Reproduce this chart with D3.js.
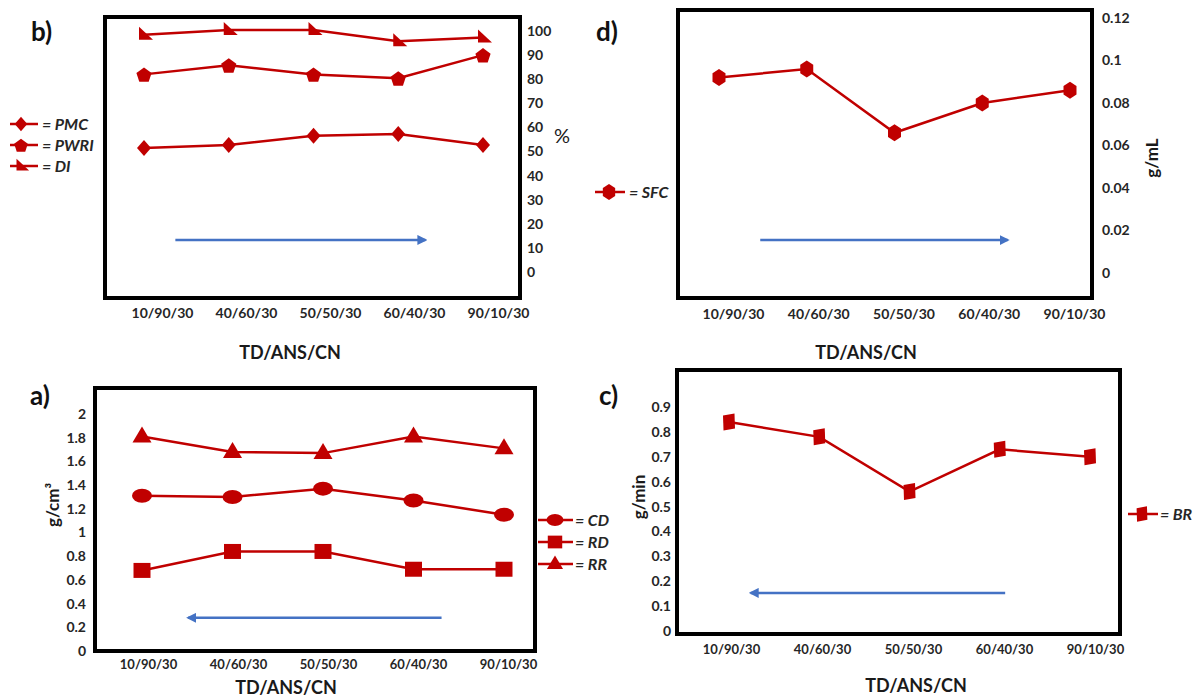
<!DOCTYPE html>
<html>
<head>
<meta charset="utf-8">
<script src="https://cdn.jsdelivr.net/npm/d3@7"></script>
<style>
  body { margin: 0; background: #fff; }
  svg { display: block; font-family: Lato, "Open Sans", sans-serif; }
  .tick text { font-weight: 700; fill: #262626; }
</style>
</head>
<body>
<svg id="chart" width="1203" height="699"></svg>
<script>
// categories (TD/ANS/CN ratios)
const categories = ["10/90/30", "40/60/30", "50/50/30", "60/40/30", "90/10/30"]

// b) percentages
const pmc  = [51.5, 52.7, 56.5, 57.3, 52.7]
const pwri = [82, 85.8, 82, 80.4, 90]
const di   = [98.4, 100.4, 100.4, 95.7, 97.3]
// d) g/mL
const sfc  = [0.092, 0.096, 0.066, 0.080, 0.086]
// a) g/cm3
const cd   = [1.31, 1.30, 1.37, 1.27, 1.15]
const rd   = [0.68, 0.84, 0.84, 0.69, 0.69]
const rr   = [1.81, 1.68, 1.67, 1.81, 1.71]
// c) g/min
const br   = [0.84, 0.78, 0.56, 0.73, 0.70]

// tick labels
const percentTicks = [0, 10, 20, 30, 40, 50, 60, 70, 80, 90, 100]
const sfcTicks = [0, 0.02, 0.04, 0.06, 0.08, 0.1, 0.12]
const densityTicks = [0, 0.2, 0.4, 0.6, 0.8, 1, 1.2, 1.4, 1.6, 1.8, 2]
const brTicks = [0, 0.1, 0.2, 0.3, 0.4, 0.5, 0.6, 0.7, 0.8, 0.9]

// trend arrows (category index from -> to, at y value)
const arrowB = [0.37, 3.32, 13.3]
const arrowD = [0.47, 3.29, 0.0155]
const arrowA = [3.31, 0.51, 0.28]
const arrowC = [3.06, 0.24, 0.153]

const RED = "#c00000"
const BLUE = "#4472c4"

// marker shapes, scale k
const shapes = {
    diamond: k => `M0,${-8*k}L${7*k},0L0,${8*k}L${-7*k},0Z`,
    pentagon: k => {
        let p = d3.range(5).map(i => {
            let a = -Math.PI/2 + i*2*Math.PI/5
            return [Math.cos(a)*8*k, Math.sin(a)*8*k + 1*k]
        })
        return "M" + p.join("L") + "Z"
    },
    flag: k => `M${-5*k},${-8*k}L${-5*k},${5*k}L${9*k},${5*k}Z`,
    hexagon: k => {
        let p = d3.range(6).map(i => {
            let a = -Math.PI/2 + i*Math.PI/3
            return [Math.cos(a)*7.5*k, Math.sin(a)*8.5*k]
        })
        return "M" + p.join("L") + "Z"
    },
    ellipse: k => `M${-10*k},0A${10*k},${7*k} 0 1,0 ${10*k},0A${10*k},${7*k} 0 1,0 ${-10*k},0Z`,
    square: k => `M${-8.5*k},${-7.5*k}H${8.5*k}V${7.5*k}H${-8.5*k}Z`,
    triangle: k => `M0,${-10*k}L${9.5*k},${6*k}L${-9.5*k},${6*k}Z`,
    skew: k => `M${-6*k},${-6.5*k}L${5.5*k},${-8.5*k}L${6*k},${6.5*k}L${-5.5*k},${8.5*k}Z`
}

const panels = [
    {
        tag: "b)", tagPos: [31, 41], frame: [105, 17, 520, 298],
        yDomain: [0, 100], yRange: [272, 31], ticks: percentTicks, side: "right", tickX: 527,
        px: [144, 483], lx: [162, 498], ly: 308, labelSize: 14,
        title: [290, 359], unit: "%", unitPos: [562, 143], unitRotate: false,
        series: [
            { name: "PMC", values: pmc, shape: "diamond" },
            { name: "PWRI", values: pwri, shape: "pentagon" },
            { name: "DI", values: di, shape: "flag" }
        ],
        legend: { x: 10, marker: 21, text: 42, ys: [124, 145, 166], w: 28, k: 0.9 },
        arrow: arrowB
    },
    {
        tag: "d)", tagPos: [596, 41], frame: [678, 10, 1092, 298],
        yDomain: [0, 0.12], yRange: [273, 18], ticks: sfcTicks, side: "right", tickX: 1102,
        px: [719, 1070], lx: [733, 1074], ly: 309, labelSize: 14,
        title: [866, 359], unit: "g/mL", unitPos: [1158, 158], unitRotate: true,
        series: [{ name: "SFC", values: sfc, shape: "hexagon" }],
        legend: { x: 595, marker: 609, text: 629, ys: [192], w: 30, k: 0.95 },
        arrow: arrowD
    },
    {
        tag: "a)", tagPos: [30, 405], frame: [95, 388, 535, 651],
        yDomain: [0, 2], yRange: [651, 414], ticks: densityTicks, side: "left", tickX: 86,
        px: [142, 504], lx: [148, 508], ly: 660, labelSize: 13,
        title: [286, 694], unit: "g/cm³", unitPos: [59, 505], unitRotate: true,
        series: [
            { name: "CD", values: cd, shape: "ellipse" },
            { name: "RD", values: rd, shape: "square" },
            { name: "RR", values: rr, shape: "triangle" }
        ],
        legend: { x: 538, marker: 555, text: 575, ys: [520, 542, 564], w: 35, k: 0.85 },
        arrow: arrowA
    },
    {
        tag: "c)", tagPos: [599, 405], frame: [677, 370, 1120, 634],
        yDomain: [0, 0.9], yRange: [631, 407], ticks: brTicks, side: "left", tickX: 671,
        px: [729, 1090], lx: [731, 1095], ly: 645, labelSize: 13,
        title: [916, 692], unit: "g/min", unitPos: [645, 497], unitRotate: true,
        series: [{ name: "BR", values: br, shape: "skew" }],
        legend: { x: 1128, marker: 1142, text: 1160, ys: [514], w: 30, k: 0.9 },
        arrow: arrowC
    }
]

const svg = d3.select("#chart")
svg.append("defs").append("marker")
    .attr("id", "head").attr("viewBox", "0 0 10 10")
    .attr("refX", 8).attr("refY", 5)
    .attr("markerWidth", 4).attr("markerHeight", 4)
    .attr("orient", "auto-start-reverse")
    .append("path").attr("d", "M0,0L10,5L0,10Z").attr("fill", BLUE)

panels.forEach(p => {
    let g = svg.append("g")
    let [x0, y0, x1, y1] = p.frame

    let x = d3.scalePoint().domain(categories).range(p.px)
    let xi = d3.scaleLinear().domain([0, categories.length - 1]).range(p.px)
    let xl = d3.scalePoint().domain(categories).range(p.lx)
    let y = d3.scaleLinear().domain(p.yDomain).range(p.yRange)

    // frame
    g.append("rect")
        .attr("x", x0).attr("y", y0)
        .attr("width", x1 - x0).attr("height", y1 - y0)
        .attr("fill", "none").attr("stroke", "#000").attr("stroke-width", 4)

    // y tick labels
    let yAxis = (p.side == "right" ? d3.axisRight(y) : d3.axisLeft(y))
        .tickValues(p.ticks).tickSize(0).tickPadding(0).tickFormat(d => d3.format("~g")(d))
    g.append("g").attr("transform", `translate(${p.tickX},0)`).call(yAxis)
        .call(a => a.select(".domain").remove())
        .selectAll("text").attr("font-size", 14).attr("font-family", "Lato")

    // x tick labels
    g.append("g").attr("transform", `translate(0,${p.ly})`)
        .call(d3.axisBottom(xl).tickSize(0).tickPadding(0))
        .call(a => a.select(".domain").remove())
        .selectAll("text").attr("font-size", p.labelSize).attr("font-family", "Lato")

    // axis title
    g.append("text").attr("x", p.title[0]).attr("y", p.title[1])
        .attr("text-anchor", "middle").attr("font-size", 18).attr("font-weight", 700)
        .attr("fill", "#1a1a1a").text("TD/ANS/CN")

    // unit label
    let u = g.append("text").attr("text-anchor", "middle").attr("fill", "#1a1a1a")
    if (p.unitRotate) {
        u.attr("transform", `translate(${p.unitPos[0]},${p.unitPos[1]}) rotate(-90)`)
            .attr("font-size", 17).attr("font-weight", 700)
    } else {
        u.attr("x", p.unitPos[0]).attr("y", p.unitPos[1]).attr("font-size", 20)
    }
    u.text(p.unit)

    // panel tag
    g.append("text").attr("x", p.tagPos[0]).attr("y", p.tagPos[1])
        .attr("font-size", 26).attr("font-weight", 700).attr("fill", "#111").text(p.tag)

    // series
    let line = d3.line().x((d, i) => x(categories[i])).y(d => y(d))
    p.series.forEach(s => {
        g.append("path").datum(s.values)
            .attr("d", line).attr("fill", "none")
            .attr("stroke", RED).attr("stroke-width", 2.5)
        g.selectAll(null).data(s.values).join("path")
            .attr("d", shapes[s.shape](1))
            .attr("transform", (d, i) => `translate(${x(categories[i])},${y(d)})`)
            .attr("fill", RED)
    })

    // legend
    let L = p.legend
    p.series.forEach((s, i) => {
        let ly = L.ys[i]
        g.append("line").attr("x1", L.x).attr("x2", L.x + L.w)
            .attr("y1", ly).attr("y2", ly).attr("stroke", RED).attr("stroke-width", 2.5)
        g.append("path").attr("d", shapes[s.shape](L.k))
            .attr("transform", `translate(${L.marker},${ly})`).attr("fill", RED)
        g.append("text").attr("x", L.text).attr("y", ly).attr("dy", "0.35em")
            .attr("font-size", 16).attr("font-style", "italic").attr("font-weight", 700)
            .attr("fill", "#262626").text("= " + s.name)
    })

    // trend arrow
    let [from, to, at] = p.arrow
    g.append("line")
        .attr("x1", xi(from)).attr("x2", xi(to))
        .attr("y1", y(at)).attr("y2", y(at))
        .attr("stroke", BLUE).attr("stroke-width", 2.5)
        .attr("marker-end", "url(#head)")
})
</script>
</body>
</html>
